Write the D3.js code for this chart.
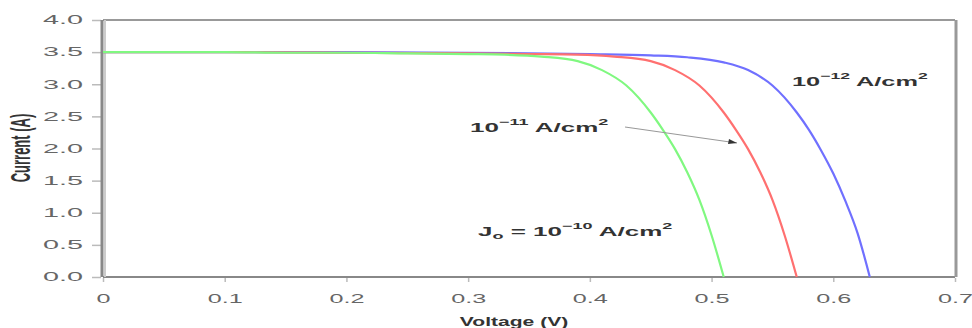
<!DOCTYPE html>
<html><head><meta charset="utf-8">
<script src="https://cdn.jsdelivr.net/npm/d3@7"></script>
<style>body{margin:0;background:#fff}svg{display:block}</style>
</head><body><svg id="c" width="972" height="328"></svg>
<script>
const xTicks = [0, 0.1, 0.2, 0.3, 0.4, 0.5, 0.6, 0.7];
const xTickLabels = ["0", "0.1", "0.2", "0.3", "0.4", "0.5", "0.6", "0.7"];
const yTicks = [0, 0.5, 1.0, 1.5, 2.0, 2.5, 3.0, 3.5, 4.0];

const greenV = [0, 0.05, 0.1, 0.15, 0.2, 0.25, 0.3, 0.33, 0.36, 0.39, 0.41, 0.43, 0.45, 0.46, 0.47, 0.48, 0.49, 0.50, 0.51];
const greenI = [3.50, 3.50, 3.50, 3.49, 3.49, 3.48, 3.47, 3.46, 3.43, 3.36, 3.22, 2.98, 2.56, 2.29, 1.99, 1.63, 1.20, 0.65, 0.0];
const redV = [0, 0.1, 0.2, 0.3, 0.35, 0.39, 0.42, 0.45, 0.47, 0.49, 0.51, 0.52, 0.53, 0.54, 0.55, 0.56, 0.57];
const redI = [3.50, 3.50, 3.49, 3.48, 3.47, 3.46, 3.43, 3.36, 3.22, 2.98, 2.56, 2.29, 1.99, 1.63, 1.20, 0.65, 0.0];
const blueV = [0, 0.1, 0.2, 0.3, 0.4, 0.45, 0.48, 0.51, 0.53, 0.55, 0.57, 0.58, 0.59, 0.60, 0.61, 0.62, 0.63];
const blueI = [3.50, 3.50, 3.50, 3.49, 3.47, 3.45, 3.42, 3.34, 3.22, 2.98, 2.56, 2.29, 1.97, 1.61, 1.18, 0.68, 0.0];

const svg = d3.select("#c");
const x = d3.scaleLinear().domain([0, 0.7]).range([103, 955]);
const y = d3.scaleLinear().domain([0, 4]).range([277, 20]);
const tickFont = "12px 'Liberation Sans', Arial, sans-serif";

// axes
const yAxis = d3.axisLeft(y).tickValues(yTicks).tickFormat(d3.format(".1f")).tickSize(9);
const gy = svg.append("g").attr("transform", "translate(101,0)").call(yAxis);
gy.select(".domain").remove();
gy.selectAll(".tick line").attr("stroke", "#bbb").attr("stroke-width", 1.5);
gy.selectAll(".tick text").attr("x", 0).attr("fill", "#666").style("font", tickFont)
  .attr("transform", "translate(-18,0) scale(2.4,1)");

const xAxis = d3.axisBottom(x).tickValues(xTicks).tickFormat((d, i) => xTickLabels[i]).tickSize(4);
const gx = svg.append("g").attr("transform", "translate(0,278)").call(xAxis);
gx.select(".domain").remove();
gx.selectAll(".tick line").attr("stroke", "#bbb").attr("stroke-width", 1.5);
gx.selectAll(".tick text").attr("y", 0).attr("fill", "#666").style("font", tickFont)
  .attr("transform", "translate(0,16) scale(2.1,1)");

// frame
svg.append("line").attr("x1", x(0)).attr("x2", x(0.7)).attr("y1", y(4)).attr("y2", y(4)).attr("stroke", "#999").attr("stroke-width", 2);
svg.append("line").attr("x1", x(0)).attr("x2", x(0.7)).attr("y1", y(0)).attr("y2", y(0)).attr("stroke", "#888").attr("stroke-width", 2);
svg.append("line").attr("x1", x(0.7) + 1).attr("x2", x(0.7) + 1).attr("y1", y(4)).attr("y2", y(0)).attr("stroke", "#999").attr("stroke-width", 3);
svg.append("line").attr("x1", x(0) - 1).attr("x2", x(0) - 1).attr("y1", y(4)).attr("y2", y(0)).attr("stroke", "#888").attr("stroke-width", 3);
svg.append("line").attr("x1", x(0) + 2).attr("x2", x(0) + 2).attr("y1", y(4)).attr("y2", y(0)).attr("stroke", "#ccc").attr("stroke-width", 2);

const line = d3.line().x(d => x(d[0])).y(d => y(d[1])).curve(d3.curveMonotoneX);
const series = [
  {v: blueV, i: blueI, c: "#7070ff"},
  {v: redV, i: redI, c: "#ff7070"},
  {v: greenV, i: greenI, c: "#80f880"}
];
series.forEach(s => {
  svg.append("path").datum(s.v.map((v, k) => [v, s.i[k]]))
    .attr("d", line).attr("fill", "none").attr("stroke", s.c).attr("stroke-width", 2.2);
});

// annotation arrow
svg.append("line").attr("x1", 625).attr("y1", 127).attr("x2", 737).attr("y2", 143).attr("stroke", "#999").attr("stroke-width", 1.2);
svg.append("path").attr("d", "M737,143 l-8,-4 l-1,5 z").attr("fill", "#333");

const font = "bold 13px 'Liberation Sans', Arial, sans-serif";
function label(xp, yp, sx, parts) {
  const t = svg.append("text").attr("transform", `translate(${xp},${yp}) scale(${sx},1)`)
    .style("font", font).attr("fill", "#333");
  parts.forEach(p => {
    const ts = t.append("tspan").text(p.t);
    if (p.sup) ts.attr("dy", -7).style("font-size", "9px");
    if (p.sub) ts.attr("dy", 3).style("font-size", "9px");
    if (p.back) ts.attr("dy", p.back);
  });
}
label(792, 86, 1.95, [{t: "10"}, {t: "−12", sup: true}, {t: " A/cm", back: 7}, {t: "2", sup: true}]);
label(470, 132, 2.0, [{t: "10"}, {t: "−11", sup: true}, {t: " A/cm", back: 7}, {t: "2", sup: true}]);
label(478, 236, 2.0, [{t: "J"}, {t: "o", sub: true}, {t: " = 10", back: -3}, {t: "−10", sup: true}, {t: " A/cm", back: 7}, {t: "2", sup: true}]);

svg.append("text").attr("transform", "translate(514,326) scale(1.62,1)").attr("text-anchor", "middle")
  .style("font", "bold 13px 'Liberation Sans', Arial, sans-serif").attr("fill", "#333").text("Voltage (V)");
svg.append("text").attr("transform", "translate(30,148) scale(2.1,1) rotate(-90)").attr("text-anchor", "middle")
  .style("font", "bold 13px 'Liberation Sans', Arial, sans-serif").attr("fill", "#333").text("Current (A)");
</script></body></html>
